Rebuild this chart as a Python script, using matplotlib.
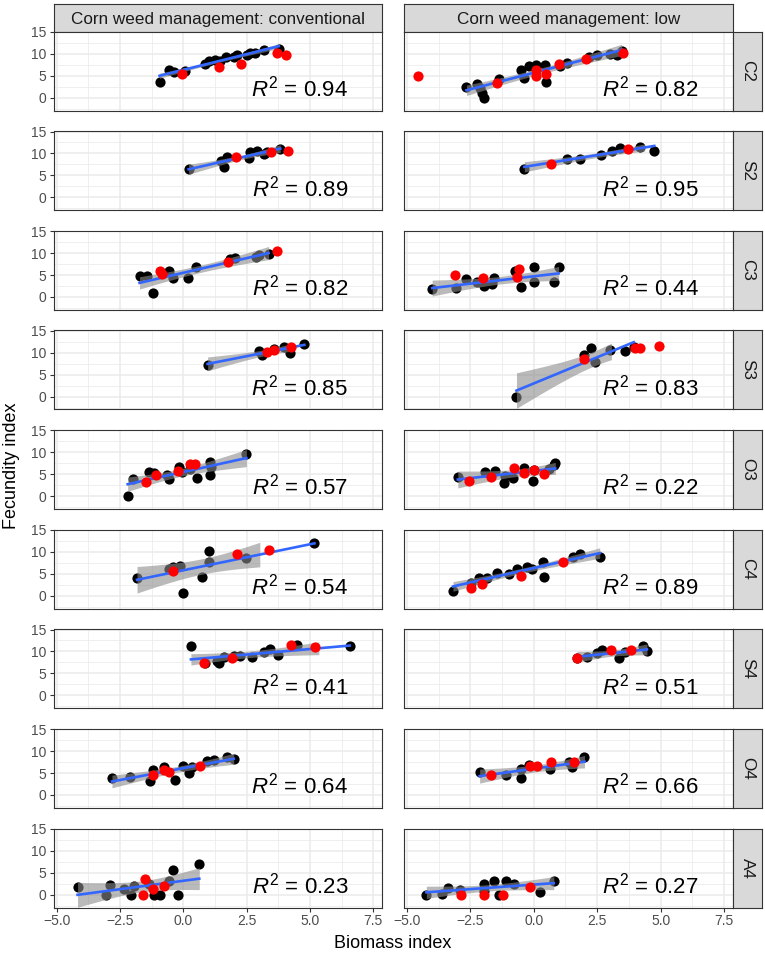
import numpy as np
import matplotlib
matplotlib.use("Agg")
import matplotlib.pyplot as plt

plt.rcParams['font.family'] = ['Liberation Sans', 'DejaVu Sans']
plt.rcParams['mathtext.fontset'] = 'custom'
plt.rcParams['mathtext.rm'] = 'Liberation Sans'
plt.rcParams['mathtext.it'] = 'Liberation Sans:italic'

# ---------------- data ----------------
rows = ["C2", "S2", "C3", "S3", "O3", "C4", "S4", "O4", "A4"]
columns = ["Corn weed management: conventional", "Corn weed management: low"]

x_ticks = [-5.0, -2.5, 0.0, 2.5, 5.0, 7.5]
y_ticks = [0, 5, 10, 15]

r2_conv = [0.94, 0.89, 0.82, 0.85, 0.57, 0.54, 0.41, 0.64, 0.23]
r2_low = [0.82, 0.95, 0.44, 0.83, 0.22, 0.89, 0.51, 0.66, 0.27]

C2_conv_black = [(-0.94, 3.7), (-0.58, 6.4), (-0.38, 5.8), (0.08, 6.0), (0.87, 7.8), (1.0, 8.3), (1.26, 8.6),
                 (1.46, 8.4), (1.7, 9.2), (1.99, 9.3), (2.12, 9.8), (2.52, 9.7), (2.65, 10.1), (2.85, 10.3),
                 (3.18, 10.8), (3.77, 11.2)]
C2_conv_red = [(-0.05, 5.4), (1.40, 6.9), (2.28, 7.8), (3.70, 10.1), (4.06, 9.75)]

S2_conv_black = [(0.21, 6.5), (1.5, 8.25), (1.62, 6.9), (1.73, 9.15), (2.58, 9.0), (2.65, 10.3), (2.91, 10.5),
                 (3.18, 9.9), (3.3, 10.3), (3.83, 11.0)]
S2_conv_red = [(2.08, 9.15), (3.48, 10.3), (4.12, 10.65)]

C3_conv_black = [(-1.73, 4.7), (-1.44, 4.7), (-1.21, 1.0), (-0.58, 5.8), (-0.41, 4.3), (0.17, 4.3), (0.51, 6.75),
                 (1.86, 8.6), (2.06, 8.8), (2.89, 9.2), (2.98, 9.5), (3.37, 9.75)]
C3_conv_red = [(-0.91, 6.0), (-0.84, 5.25), (1.75, 8.0), (3.70, 10.5)]

S3_conv_black = [(0.96, 7.3), (2.98, 10.3), (3.11, 9.4), (3.60, 10.9), (3.97, 11.4), (4.23, 10.0), (4.78, 12.0)]
S3_conv_red = [(3.31, 10.1), (3.57, 10.5), (4.27, 11.4)]

O3_conv_black = [(-2.2, 0.0), (-2.0, 3.9), (-1.37, 5.6), (-1.17, 5.25), (-0.65, 4.9), (-0.58, 3.9), (-0.18, 6.75),
                 (-0.05, 5.6), (0.28, 6.15), (0.54, 4.1), (1.04, 7.7), (1.04, 4.9), (1.09, 6.75), (2.49, 9.5)]
O3_conv_red = [(-1.48, 3.15), (-1.07, 4.9), (-0.21, 5.8), (0.28, 7.4), (0.47, 7.4)]

C4_conv_black = [(-1.83, 4.0), (-0.58, 6.2), (-0.41, 6.6), (-0.14, 6.8), (-0.01, 0.6), (0.74, 4.35), (1.0, 10.1),
                 (1.0, 7.6), (2.49, 8.6), (5.18, 12.0)]
C4_conv_red = [(-0.42, 5.6), (2.12, 9.4), (3.37, 10.35)]

S4_conv_black = [(0.30, 11.2), (0.87, 7.3), (1.33, 7.8), (1.40, 7.3), (1.62, 8.8), (1.99, 9.0), (2.25, 9.0),
                 (2.71, 8.8), (3.18, 9.9), (3.44, 10.5), (3.73, 9.15), (4.49, 11.55), (6.57, 11.25)]
S4_conv_red = [(0.8, 7.4), (1.92, 8.55), (4.26, 11.55), (5.22, 11.0)]

O4_conv_black = [(-2.82, 3.9), (-2.09, 4.1), (-1.30, 3.15), (-1.2, 5.6), (-0.78, 6.4), (-0.32, 3.4), (-0.01, 6.6),
                 (0.21, 5.1), (0.34, 6.4), (0.94, 7.65), (1.2, 7.9), (1.73, 8.6), (1.99, 8.25)]
O4_conv_red = [(-1.2, 4.65), (-0.75, 5.6), (-0.58, 5.25), (0.67, 6.6)]

A4_conv_black = [(-4.18, 1.65), (-3.04, 0.0), (-2.89, 2.25), (-2.33, 1.35), (-2.07, 0.0), (-1.96, 1.9),
                 (-1.37, 2.4), (-1.17, 0.0), (-0.94, 0.0), (-0.58, 3.0), (-0.41, 5.6), (-0.22, 0.0), (0.63, 6.9)]
A4_conv_red = [(-1.53, 3.6), (-1.59, 0.0), (-1.2, 1.35), (-0.75, 1.9)]

C2_low_black = [(-2.65, 2.55), (-2.23, 3.15), (-2.1, 2.25), (-2.03, 1.05), (-1.97, 0.0), (-1.38, 4.3),
                (-0.52, 6.3), (-0.39, 4.5), (-0.2, 7.3), (0.07, 7.5), (0.46, 7.5), (0.49, 3.5), (1.05, 7.3),
                (1.31, 8.0), (2.17, 9.3), (2.49, 9.75), (3.02, 10.05), (3.28, 9.75), (3.48, 10.6)]
C2_low_red = [(-4.55, 5.0), (-1.44, 3.4), (0.07, 6.3), (0.1, 5.0), (0.5, 5.4), (0.98, 7.8), (2.07, 8.8), (3.52, 10.3)]

S2_low_black = [(-0.37, 6.5), (1.31, 8.8), (1.84, 8.8), (2.65, 9.75), (3.08, 10.65), (3.41, 11.25), (4.2, 11.4),
                (4.75, 10.65)]
S2_low_red = [(0.7, 7.65), (3.7, 11.0)]

C3_low_black = [(-4.0, 1.9), (-3.08, 2.0), (-2.65, 4.1), (-2.23, 3.5), (-1.97, 2.6), (-1.64, 3.0), (-1.57, 4.3),
                (-0.72, 6.0), (-0.52, 2.25), (0.0, 6.75), (0.03, 3.4), (0.79, 3.5), (0.98, 6.75)]
C3_low_red = [(-3.12, 4.9), (-1.99, 4.3), (-0.66, 4.5), (-0.59, 6.4)]

S3_low_black = [(-0.68, 0.0), (2.0, 9.5), (2.26, 11.0), (2.43, 7.9), (3.02, 10.5), (3.6, 10.3), (3.94, 11.25)]
S3_low_red = [(2.0, 8.6), (4.0, 11.0), (4.17, 11.0), (4.92, 11.6)]

O3_low_black = [(-2.99, 4.3), (-1.9, 5.6), (-1.51, 5.8), (-1.18, 3.0), (-1.12, 4.5), (-0.81, 4.1), (-0.39, 6.5),
                (-0.03, 3.4), (0.0, 6.0), (0.59, 6.15), (0.79, 7.1), (0.85, 7.5)]
O3_low_red = [(-2.56, 3.5), (-1.67, 4.3), (-0.79, 6.4), (-0.37, 5.25), (0.0, 6.0), (0.39, 5.0)]

C4_low_black = [(-3.18, 1.0), (-2.49, 2.85), (-2.17, 4.1), (-1.86, 4.0), (-1.44, 5.1), (-0.98, 4.9), (-0.66, 6.1),
                (-0.26, 6.6), (-0.07, 6.1), (0.37, 7.7), (0.39, 4.35), (1.55, 8.85), (1.84, 9.4), (2.6, 8.85)]
C4_low_red = [(-2.47, 1.7), (-2.03, 2.6), (-0.52, 4.5), (1.15, 7.7)]

S4_low_black = [(1.71, 8.55), (2.1, 8.8), (2.49, 9.75), (2.69, 10.3), (3.35, 8.4), (3.61, 9.9), (4.3, 11.25),
                (4.46, 10.05)]
S4_low_red = [(1.71, 8.4), (3.06, 10.3), (3.83, 10.3)]

O4_low_black = [(-2.13, 5.25), (-1.08, 4.65), (-0.52, 3.9), (-0.52, 5.85), (-0.2, 6.75), (0.66, 5.85), (1.38, 7.5),
                (1.51, 6.4), (2.0, 8.6)]
O4_low_red = [(-1.67, 4.5), (-0.16, 6.5), (0.13, 6.6), (0.68, 7.5), (1.57, 7.5)]

A4_low_black = [(-4.23, 0.0), (-3.61, 0.15), (-3.39, 1.5), (-2.89, 1.1), (-1.97, 0.75), (-1.97, 2.4), (-1.57, 3.15),
                (-1.38, 0.0), (-1.08, 3.0), (-0.79, 2.4), (0.26, 0.6), (0.79, 3.15)]
A4_low_red = [(-2.85, 0.0), (-1.97, 0.0), (-1.21, 0.0), (-0.16, 1.65)]

black_conv = [C2_conv_black, S2_conv_black, C3_conv_black, S3_conv_black, O3_conv_black,
              C4_conv_black, S4_conv_black, O4_conv_black, A4_conv_black]
red_conv = [C2_conv_red, S2_conv_red, C3_conv_red, S3_conv_red, O3_conv_red,
            C4_conv_red, S4_conv_red, O4_conv_red, A4_conv_red]
black_low = [C2_low_black, S2_low_black, C3_low_black, S3_low_black, O3_low_black,
             C4_low_black, S4_low_black, O4_low_black, A4_low_black]
red_low = [C2_low_red, S2_low_red, C3_low_red, S3_low_red, O3_low_red,
           C4_low_red, S4_low_red, O4_low_red, A4_low_red]

# ---------------- style / layout ----------------
W, H = 765, 956
fig = plt.figure(figsize=(W / 100, H / 100), dpi=100)

BORDER = '#333333'
GRID = '#EBEBEB'
STRIP = '#D9D9D9'
XLIM = (-5.13, 7.85)
YLIM = (-2.95, 15.05)
BAND_TOP = 12.2


def add_px_axes(x0, top, w, h):
    return fig.add_axes([x0 / W, 1 - (top + h) / H, w / W, h / H])


def t975(df):
    z = 1.959964
    return z + (z ** 3 + z) / (4 * df) + (5 * z ** 5 + 16 * z ** 3 + 3 * z) / (96 * df ** 2)


col_x = [53.5, 403.5]
col_w = [328.5, 329.5]
row_top0, row_step, row_h = 31.7, 99.6, 79.0

for c in range(2):
    blacks = black_conv if c == 0 else black_low
    reds = red_conv if c == 0 else red_low
    r2s = r2_conv if c == 0 else r2_low
    # top strip
    sax = add_px_axes(col_x[c], 3.5, col_w[c], row_top0 - 3.5)
    sax.set_facecolor(STRIP)
    sax.set_xticks([]); sax.set_yticks([])
    for sp in sax.spines.values():
        sp.set_color(BORDER); sp.set_linewidth(0.8)
    sax.text(0.5, 0.45, columns[c], ha='center', va='center', fontsize=12.3, color='#1A1A1A',
             transform=sax.transAxes)
    for r in range(9):
        top = row_top0 + row_step * r
        ax = add_px_axes(col_x[c], top, col_w[c], row_h)
        ax.set_xlim(*XLIM)
        ax.set_ylim(*YLIM)
        ax.set_xticks(x_ticks)
        ax.set_xticks([-3.75, -1.25, 1.25, 3.75, 6.25], minor=True)
        ax.set_yticks(y_ticks)
        ax.set_yticks([-2.5, 2.5, 7.5, 12.5], minor=True)
        ax.grid(True, which='major', color=GRID, linewidth=1.1, zorder=0)
        ax.grid(True, which='minor', color=GRID, linewidth=0.55, zorder=0)
        ax.set_axisbelow(True)
        for sp in ax.spines.values():
            sp.set_color(BORDER); sp.set_linewidth(0.8)
        ax.tick_params(which='major', length=3, width=0.8, color=BORDER, labelcolor='#4D4D4D',
                       labelsize=10, pad=2)
        ax.tick_params(which='minor', length=0)
        if r == 8:
            ax.set_xticklabels([f"{v:.1f}".replace('-', '\u2212') for v in x_ticks])
        else:
            ax.tick_params(axis='x', bottom=False, labelbottom=False)
        if c == 0:
            ax.set_yticklabels([str(v) for v in y_ticks])
        else:
            ax.tick_params(axis='y', left=False, labelleft=False)

        bx = np.array([p[0] for p in blacks[r]])
        by = np.array([p[1] for p in blacks[r]])
        rx = np.array([p[0] for p in reds[r]])
        ry = np.array([p[1] for p in reds[r]])

        ax.scatter(bx, by, s=54, color='black', linewidths=0, zorder=2)

        # linear fit with 95% confidence band (on the black points)
        n = len(bx)
        slope, icpt = np.polyfit(bx, by, 1)
        resid = by - (slope * bx + icpt)
        s = np.sqrt(np.sum(resid ** 2) / (n - 2))
        xbar = bx.mean()
        sxx = np.sum((bx - xbar) ** 2)
        xs = np.linspace(bx.min(), bx.max(), 300)
        fit = slope * xs + icpt
        se = s * np.sqrt(1.0 / n + (xs - xbar) ** 2 / sxx)
        tq = t975(n - 2)
        lo, hi = fit - tq * se, fit + tq * se
        ok = hi <= BAND_TOP
        ax.fill_between(xs, lo, hi, where=ok, color='#8C8C8C', alpha=0.6, linewidth=0, zorder=3)
        ax.plot(xs, fit, color='#3366FF', linewidth=1.9, zorder=4)

        ax.scatter(rx, ry, s=54, color='#FF0000', linewidths=0, zorder=5)

        ax.text(4.6, 0.3, r'$R^2$' + f" = {r2s[r]:.2f}", ha='center', va='baseline',
                fontsize=16, color='black', zorder=6)

        if c == 1:
            rax = add_px_axes(733.0, top, 28.5, row_h)
            rax.set_facecolor(STRIP)
            rax.set_xticks([]); rax.set_yticks([])
            for sp in rax.spines.values():
                sp.set_color(BORDER); sp.set_linewidth(0.8)
            rax.text(0.5, 0.5, rows[r], ha='center', va='center', rotation=-90, fontsize=12.3,
                     color='#1A1A1A', transform=rax.transAxes)

fig.text(393 / W, 1 - 943 / H, "Biomass index", ha='center', va='center', fontsize=13, color='black')
fig.text(12 / W, 1 - 466 / H, "Fecundity index", ha='center', va='center', rotation=90, fontsize=13,
         color='black')

fig.savefig("out.png", dpi=100, facecolor='white')
